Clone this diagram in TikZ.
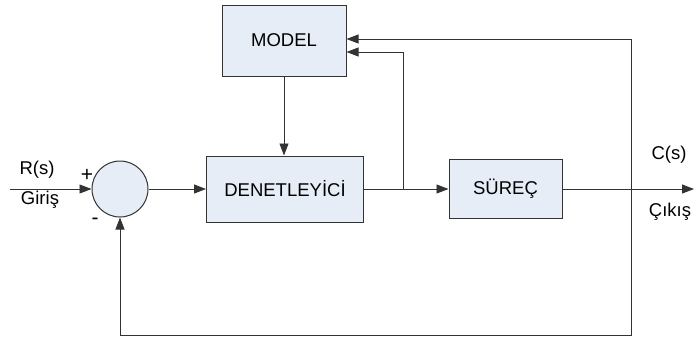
\documentclass[tikz,border=0pt]{standalone}
\usepackage{fontspec}
\setmainfont{Liberation Sans}
\usetikzlibrary{arrows.meta,positioning,calc}
\definecolor{BlockFill}{HTML}{E6EDF7}
\definecolor{LineGrey}{HTML}{333333}

\begin{document}
\begin{tikzpicture}[x=1pt,y=-1pt,>={Triangle[length=12pt,width=9pt]},
  line width=0.9pt,draw=LineGrey,
  block/.style={draw=LineGrey,fill=BlockFill,line width=1pt,inner sep=0pt,font=\fontsize{18.5pt}{22pt}\selectfont},
  lbl/.style={inner sep=0pt,font=\fontsize{18.5pt}{22pt}\selectfont},
  sgn/.style={inner sep=0pt,font=\fontsize{21pt}{22pt}\selectfont}]
\useasboundingbox (0,0) rectangle (695,340);
\node[block,minimum width=124pt,minimum height=71pt] (model) at (284,40.5) {MODEL};
\node[block,minimum width=157pt,minimum height=66pt] (denet) at (285,189) {DENETLEY\.IC\.I};
\node[block,minimum width=113pt,minimum height=59pt] (surec) at (505.5,189) {SÜREÇ};
\node[block,circle,minimum size=56pt] (sum) at (120,189) {};
\coordinate (in) at (10,189);
\coordinate (tap) at (403,189);
\coordinate (br) at (631,189);
\coordinate (out) at (694,189);
\coordinate (top) at (631,39);
\coordinate (tapt) at (403,52);
\coordinate (rb) at (631,335);
\coordinate (lb) at (120,335);
% forward path
\draw[->,LineGrey] (in) -- (sum.west);
\draw[->,LineGrey] (sum.east) -- (denet.west);
\draw[->,LineGrey] (denet.east) -- (surec.west);
\draw[->,LineGrey] (surec.east) -- (out);
\draw[->,LineGrey] (model.south) -- (model.south |- denet.north);
% model inputs
\draw[->,LineGrey] (tap) -- (tapt) -- (tapt -| model.east);
\draw[->,LineGrey] (rb) -- (top) -- (top -| model.east);
% feedback
\draw[->,LineGrey] (br) -- (rb) -- (lb) -- (sum.south);
\node[lbl] (r) at (37,170) {R(s)};
\node[lbl] (g) at (40,200) {Giriş};
\node[sgn] (p) at (87,175) {+};
\node[sgn] (m) at (95,221) {-};
\node[lbl] (c) at (669,155) {C(s)};
\node[lbl] (k) at (670,212) {Çıkış};
\end{tikzpicture}
\end{document}
